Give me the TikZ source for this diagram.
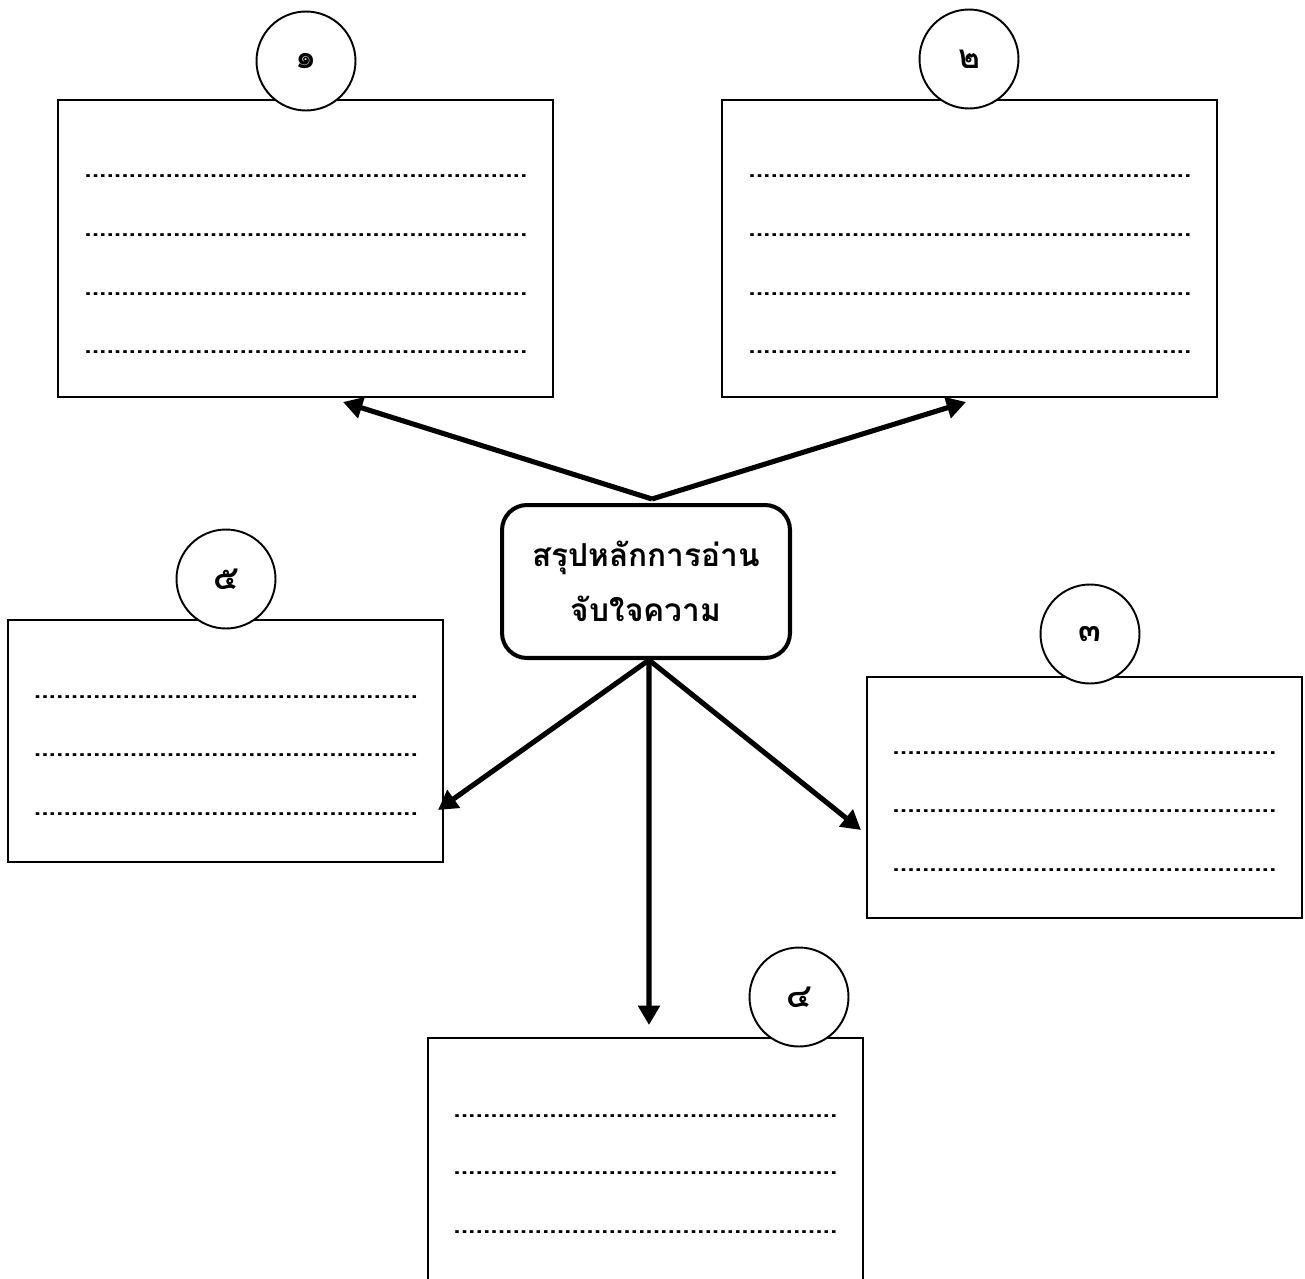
\documentclass[tikz,border=0pt]{standalone}
\usepackage{fontspec}
\newfontfamily\thaifont[Script=Thai]{Loma}
\usetikzlibrary{arrows.meta}
\newcommand\dotline[1]{\hbox to #1{\cleaders\hbox to 4.2pt{\hss.\hss}\hfill}}

\begin{document}
\begin{tikzpicture}[x=0.02cm, y=-0.02cm,
	bigbox/.style={draw, line width=1.5pt, minimum width=9.9cm, minimum height=5.94cm, inner sep=0},
	smallbox/.style={draw, line width=1.5pt, minimum width=8.7cm, inner sep=0},
	numcircle/.style={draw, circle, fill=white, line width=1.1pt, minimum size=1.98cm, inner sep=0, font=\thaifont\bfseries\fontsize{19}{19}\selectfont},
	dotrow/.style={anchor=west, inner sep=0, font=\thaifont\bfseries\fontsize{15}{15}\selectfont},
	pointer/.style={line width=2.9pt, -{Triangle[length=11pt, width=12pt]}}]
			%%%%% START %%%%%
			
			\clip (0, 0) rectangle (1305, 1278);
			
			\node[bigbox] (box1) at (305.5, 248.5) {};
			\node[bigbox] (box2) at (969.5, 248.5) {};
			\node[smallbox, minimum height=4.82cm] (box3) at (1084.5, 797.5) {};
			\node[smallbox, minimum height=5.04cm] (box4) at (645.5, 1164) {};
			\node[smallbox, minimum height=4.84cm] (box5) at (225.5, 741) {};
			
			\foreach \y [count=\i] in {176, 235, 294, 352} {
				\node[dotrow] (rowa\i) at (81, \y) {\dotline{8.98cm}};
				\node[dotrow] (rowb\i) at (745, \y) {\dotline{8.98cm}};
			}
			\foreach \y [count=\i] in {753, 811, 870}
				\node[dotrow] (rowc\i) at (892, \y) {\dotline{7.68cm}};
			\foreach \y [count=\i] in {1116, 1173, 1232}
				\node[dotrow] (rowd\i) at (453, \y) {\dotline{7.68cm}};
			\foreach \y [count=\i] in {697, 755, 814}
				\node[dotrow] (rowe\i) at (33, \y) {\dotline{7.7cm}};
			
			\node[numcircle] (num1) at (306, 61) {๑};
			\node[numcircle] (num2) at (969, 59) {๒};
			\node[numcircle] (num3) at (1090, 634) {๓};
			\node[numcircle] (num4) at (799, 997) {๔};
			\node[numcircle] (num5) at (226, 579) {๕};
			
			\node[draw, line width=2.3pt, rounded corners=0.5cm, minimum width=5.76cm, minimum height=3.06cm, align=center,
				font=\thaifont\bfseries\fontsize{18}{31}\selectfont] (summary) at (646, 581.5) {สรุปหลักการอ่าน\\จับใจความ};
			
			\coordinate (tip1) at (343, 402);
			\coordinate (tip2) at (966, 402);
			\coordinate (tip3) at (861, 830);
			\coordinate (tip4) at (649, 1025);
			\coordinate (tip5) at (438, 810);
			
			\draw[pointer] ([xshift=0.12cm, yshift=0.08cm]summary.north) -- (tip1);
			\draw[pointer] ([xshift=0.12cm, yshift=0.08cm]summary.north) -- (tip2);
			\draw[pointer] ([xshift=0.06cm]summary.south) -- (tip5);
			\draw[pointer] ([xshift=0.06cm]summary.south) -- (tip3);
			\draw[pointer] ([xshift=0.06cm]summary.south) -- (tip4);
			
			%%%%% END %%%%%
\end{tikzpicture}
\end{document}
